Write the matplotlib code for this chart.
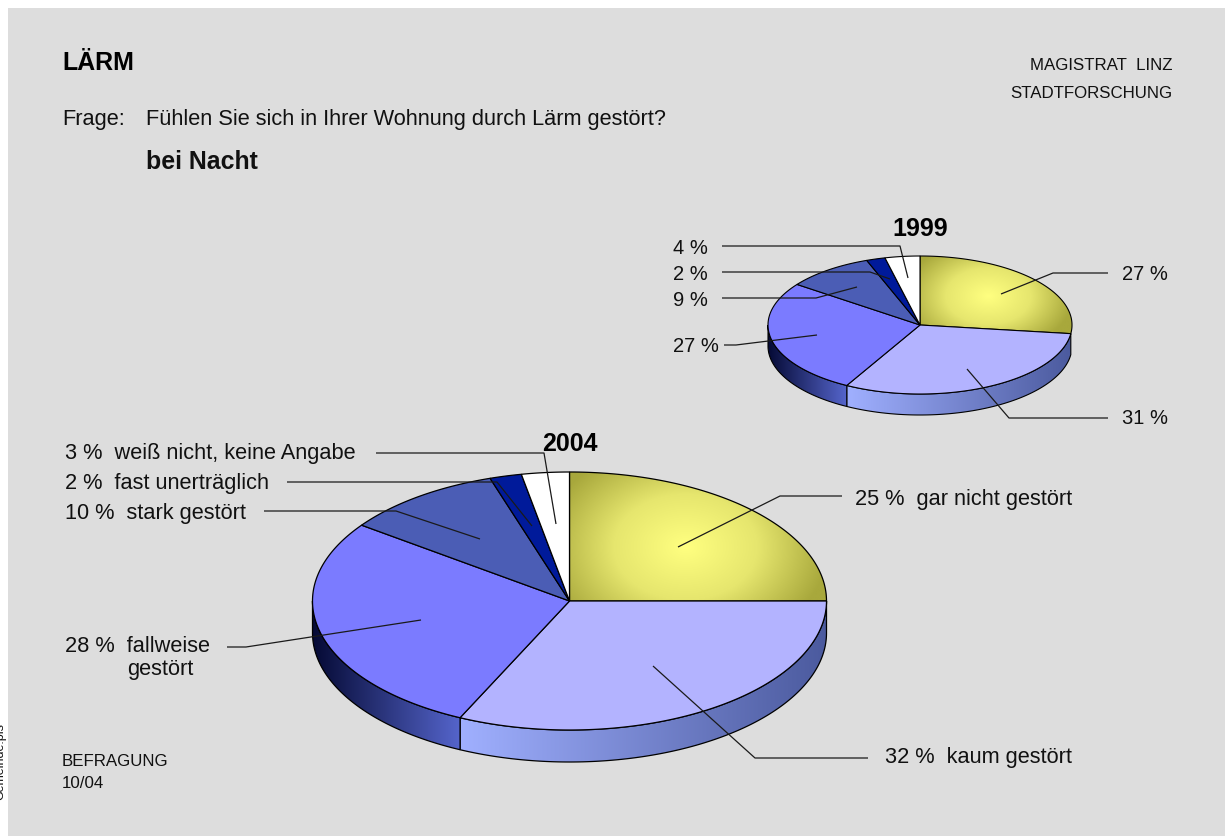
import numpy as np
import matplotlib
matplotlib.use('Agg')
import matplotlib.pyplot as plt
from matplotlib.patches import Polygon, Rectangle
from matplotlib.colors import LinearSegmentedColormap

plt.rcParams['font.family'] = ['Liberation Sans', 'DejaVu Sans']

# shares clockwise from 12 o'clock
values_2004 = [25, 32, 28, 10, 2, 3]
values_1999 = [27, 31, 27, 9.3, 2, 3.7]
labels_2004 = ['25 %  gar nicht gestört', '32 %  kaum gestört', '28 %  fallweise', '10 %  stark gestört',
               '2 %  fast unerträglich', '3 %  weiß nicht, keine Angabe']
labels_1999 = ['27 %', '31 %', '27 %', '9 %', '2 %', '4 %']
slice_colors = ['#e8e870', '#b3b3ff', '#7b7bff', '#4b5db5', '#001a9a', '#ffffff']

W, H = 1225, 836
fig = plt.figure(figsize=(W / 100, H / 100), dpi=100, facecolor='white')
ax = fig.add_axes([0, 0, 1, 1])
ax.set_xlim(0, W)
ax.set_ylim(H, 0)
ax.axis('off')
ax.add_patch(Rectangle((8, 8), W, H, fc='#dddddd', ec='none', zorder=0))

yellow = LinearSegmentedColormap.from_list('y', ['#ffff80', '#e6e66e', '#a8a83c'])
side_light = LinearSegmentedColormap.from_list('sl', ['#a0b0ff', '#4b5a9e'])
side_mid = LinearSegmentedColormap.from_list('sm', ['#050a35', '#5565cc'])


def rim(cx, cy, rx, ry, a0, a1):
    t = np.radians(np.linspace(a0, a1, max(3, int(abs(a1 - a0) * 2))))
    return cx + rx * np.sin(t), cy - ry * np.cos(t)


def gradient_fill(poly, cmap, extent, radial=None):
    x0, x1, y0, y1 = extent
    if radial is None:
        img = np.linspace(0, 1, 256)[None, :]
    else:
        xx, yy = np.meshgrid(np.linspace(x0, x1, 300), np.linspace(y0, y1, 300))
        fx, fy, sx, sy = radial
        img = np.clip(np.hypot((xx - fx) / sx, (yy - fy) / sy), 0, 1)
    im = ax.imshow(img, cmap=cmap, extent=(x0, x1, y1, y0), aspect='auto', vmin=0, vmax=1, zorder=poly.get_zorder())
    ax.add_patch(poly)
    poly.set_facecolor('none')
    im.set_clip_path(poly)


def draw_pie(values, cx, cy, rx, ry, depth, lw):
    edges = np.cumsum([0] + values) / sum(values) * 360

    # side wall, only the front half shows
    for i, cmap in ((1, side_light), (2, side_mid)):
        a0, a1 = max(edges[i], 90), min(edges[i + 1], 270)
        x, y = rim(cx, cy, rx, ry, a0, a1)
        pts = np.r_[np.c_[x, y], np.c_[x[::-1], y[::-1] + depth]]
        poly = Polygon(pts, closed=True, ec='black', lw=lw, zorder=2)
        gradient_fill(poly, cmap, (x.min(), x.max(), y.min(), y.max() + depth))

    for i, col in enumerate(slice_colors):
        x, y = rim(cx, cy, rx, ry, edges[i], edges[i + 1])
        pts = np.r_[[[cx, cy]], np.c_[x, y]]
        poly = Polygon(pts, closed=True, ec='black', fc=col, lw=lw, zorder=3)
        if i == 0:
            gradient_fill(poly, yellow, (cx - 5, cx + rx + 5, cy - ry - 5, cy + 30),
                          radial=(cx + 0.45 * rx, cy - 0.42 * ry, 0.56 * rx, 0.82 * ry))
        else:
            ax.add_patch(poly)


def leader(xs, ys):
    ax.plot(xs, ys, color='#1a1a1a', lw=0.9, zorder=5, solid_capstyle='butt')


draw_pie(values_2004, 569.5, 601, 257, 129, 32, 0.9)
draw_pie(values_1999, 920, 325, 152, 69, 21, 0.8)

# leader lines 2004
leader([678, 780, 842], [547, 496, 496])
leader([653, 755, 868], [666, 758, 758])
leader([227, 246, 421], [647, 647, 620])
leader([264, 396, 480], [511, 511, 539])
leader([287, 497, 532], [482, 482, 526])
leader([376, 544, 556], [453, 453, 524])
# leader lines 1999
leader([1001, 1053, 1108], [294, 273, 273])
leader([967, 1009, 1108], [369, 418, 418])
leader([724, 736, 817], [345, 345, 335])
leader([722, 816, 857], [298, 298, 287])
leader([722, 870, 890], [272, 272, 279])
leader([722, 900, 908], [246, 246, 278])

# labels 2004, 1999
fs = 15.7
fs_small = 14.5
txt = '#111111'
ax.text(855, 499, labels_2004[0], fontsize=fs, va='center', color=txt)
ax.text(885, 758, labels_2004[1], fontsize=fs, va='center', color=txt)
ax.text(65, 647, labels_2004[2], fontsize=fs, va='center', color=txt)
ax.text(127, 670, 'gestört', fontsize=fs, va='center', color=txt)
ax.text(65, 513, labels_2004[3], fontsize=fs, va='center', color=txt)
ax.text(65, 483, labels_2004[4], fontsize=fs, va='center', color=txt)
ax.text(65, 454, labels_2004[5], fontsize=fs, va='center', color=txt)
ax.text(1122, 275, labels_1999[0], fontsize=fs_small, va='center', color=txt)
ax.text(1122, 419, labels_1999[1], fontsize=fs_small, va='center', color=txt)
ax.text(673, 347, labels_1999[2], fontsize=fs_small, va='center', color=txt)
ax.text(673, 300, labels_1999[3], fontsize=fs_small, va='center', color=txt)
ax.text(673, 275, labels_1999[4], fontsize=fs_small, va='center', color=txt)
ax.text(673, 249, labels_1999[5], fontsize=fs_small, va='center', color=txt)

ax.text(569.5, 444, '2004', fontsize=18, fontweight='bold', ha='center', va='center', color='black')
ax.text(920.5, 229, '1999', fontsize=18, fontweight='bold', ha='center', va='center', color='black')

# header and footer
ax.text(62, 63, 'LÄRM', fontsize=18, fontweight='bold', va='center', color='black')
ax.text(62, 120, 'Frage:', fontsize=fs, va='center', color=txt)
ax.text(146, 120, 'Fühlen Sie sich in Ihrer Wohnung durch Lärm gestört?', fontsize=fs, va='center', color=txt)
ax.text(146, 162, 'bei Nacht', fontsize=17.9, fontweight='bold', va='center', color=txt)
ax.text(1172, 66, 'MAGISTRAT  LINZ', fontsize=12.2, ha='right', va='center', color=txt)
ax.text(1172, 94, 'STADTFORSCHUNG', fontsize=12.2, ha='right', va='center', color=txt)
ax.text(62, 762, 'BEFRAGUNG', fontsize=12.2, va='center', color=txt)
ax.text(62, 784, '10/04', fontsize=12.2, va='center', color=txt)

# file name running off the left page edge
ax.text(-6, 800, 'Gemeinde.pls', fontsize=9, rotation=90, ha='left', va='bottom', color=txt)

fig.savefig('out.png', dpi=100, facecolor='white')
